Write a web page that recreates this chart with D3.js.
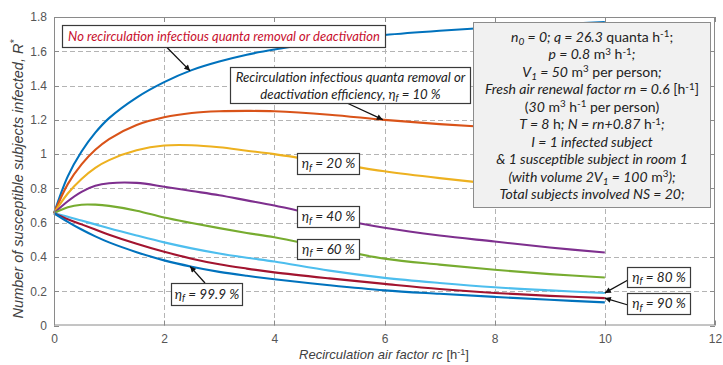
<!DOCTYPE html>
<html>
<head>
<meta charset="utf-8">
<script src="https://cdn.jsdelivr.net/npm/d3@7/dist/d3.min.js"></script>
<style>
  html, body { margin: 0; padding: 0; background: #fff; }
  svg { display: block; }
</style>
</head>
<body>
<svg id="chart" width="723" height="365"></svg>
<script>
// Recirculation air factor rc [h^-1]
const rc = [0, 0.25, 0.5, 0.75, 1, 1.5, 2, 2.5, 3, 3.5, 4, 5, 6, 7, 8, 9, 10];

// R* for each filter efficiency eta_f
const noRemoval = [0.655, 0.87, 1.015, 1.125, 1.21, 1.33, 1.42, 1.49, 1.54, 1.58, 1.61, 1.66, 1.695, 1.72, 1.74, 1.755, 1.77];
const eta10  = [0.655, 0.825, 0.94, 1.025, 1.088, 1.17, 1.215, 1.24, 1.25, 1.252, 1.25, 1.23, 1.20, 1.175, 1.155, 1.135, 1.115];
const eta20  = [0.655, 0.77, 0.855, 0.92, 0.965, 1.022, 1.05, 1.052, 1.04, 1.02, 1.00, 0.95, 0.90, 0.86, 0.825, 0.795, 0.77];
const eta40  = [0.655, 0.725, 0.78, 0.815, 0.83, 0.832, 0.81, 0.785, 0.76, 0.73, 0.70, 0.63, 0.57, 0.525, 0.49, 0.455, 0.426];
const eta60  = [0.655, 0.69, 0.705, 0.705, 0.698, 0.67, 0.63, 0.598, 0.568, 0.54, 0.515, 0.45, 0.39, 0.355, 0.325, 0.30, 0.28];
const eta80  = [0.655, 0.635, 0.612, 0.59, 0.567, 0.525, 0.485, 0.45, 0.42, 0.395, 0.373, 0.32, 0.278, 0.248, 0.223, 0.205, 0.19];
const eta90  = [0.655, 0.62, 0.59, 0.56, 0.53, 0.477, 0.43, 0.39, 0.357, 0.332, 0.31, 0.275, 0.243, 0.213, 0.19, 0.173, 0.16];
const eta999 = [0.655, 0.605, 0.56, 0.52, 0.485, 0.428, 0.38, 0.343, 0.313, 0.29, 0.27, 0.235, 0.205, 0.185, 0.167, 0.15, 0.135];

const seriesList = [noRemoval, eta10, eta20, eta40, eta60, eta80, eta90, eta999];
const seriesColors = ["#0072BD", "#D95319", "#EDB120", "#7E2F8E", "#77AC30", "#4DBEEE", "#A2142F", "#0072BD"];

const xTicks = [0, 2, 4, 6, 8, 10, 12];
const yTicks = [0, 0.2, 0.4, 0.6, 0.8, 1, 1.2, 1.4, 1.6, 1.8];

// Parameter panel, one entry per line: [text, style]; style = i|n + optional b (sub) / p (sup)
const infoLines = [
  [["n", "i"], ["0", "ib"], [" = 0; q = 26.3", "i"], [" quanta h", "n"], ["-1", "np"], [";", "n"]],
  [["p = 0.8", "i"], [" m", "n"], ["3", "np"], [" h", "n"], ["-1", "np"], [";", "i"]],
  [["V", "i"], ["1", "ib"], [" = 50", "i"], [" m", "n"], ["3", "np"], [" per person", "n"], [";", "i"]],
  [["Fresh air renewal factor rn = 0.6", "i"], [" [h", "n"], ["-1", "np"], ["]", "n"]],
  [["(", "n"], ["30", "i"], [" m", "n"], ["3", "np"], [" h", "n"], ["-1", "np"], [" per person)", "n"]],
  [["T = 8", "i"], [" h", "n"], ["; N = rn+0.87", "i"], [" h", "n"], ["-1", "np"], [";", "i"]],
  [["I = 1 infected subject", "i"]],
  [["& 1 susceptible subject in room 1", "i"]],
  [["(with volume 2V", "i"], ["1", "ib"], [" = 100", "i"], [" m", "n"], ["3", "np"], [");", "i"]],
  [["Total subjects involved NS = 20;", "i"]]
];

const svg = d3.select("#chart");
const plot = { left: 54, right: 715, top: 17, bottom: 325.5 };

const x = d3.scaleLinear().domain([0, 12]).range([plot.left, plot.right]);
const y = d3.scaleLinear().domain([0, 1.8]).range([plot.bottom, plot.top]);

const annFont = "Lato, 'Open Sans', sans-serif";
const axFont = "'Liberation Sans', Arial, sans-serif";

// arrowhead marker
svg.append("defs").append("marker")
  .attr("id", "arrow").attr("viewBox", "0 0 10 10")
  .attr("refX", 10).attr("refY", 5)
  .attr("markerWidth", 7).attr("markerHeight", 6)
  .attr("markerUnits", "userSpaceOnUse")
  .attr("orient", "auto")
  .append("path").attr("d", "M0,0 L10,5 L0,10 z").attr("fill", "#111");

// grid
const grid = svg.append("g").attr("stroke", "#b4b4b4").attr("stroke-width", 1)
  .attr("stroke-dasharray", "5,3").attr("fill", "none");
xTicks.slice(1, -1).forEach(t => grid.append("line")
  .attr("x1", Math.round(x(t)) + 0.5).attr("x2", Math.round(x(t)) + 0.5)
  .attr("y1", plot.top).attr("y2", plot.bottom));
yTicks.slice(1, -1).forEach(t => grid.append("line")
  .attr("y1", Math.round(y(t)) + 0.5).attr("y2", Math.round(y(t)) + 0.5)
  .attr("x1", plot.left).attr("x2", plot.right));

// curves
const line = d3.line().x((d, i) => x(rc[i])).y(d => y(d)).curve(d3.curveCatmullRom.alpha(0.5));
svg.append("g").selectAll("path").data(seriesList).join("path")
  .attr("d", d => line(d))
  .attr("fill", "none")
  .attr("stroke", (d, i) => seriesColors[i])
  .attr("stroke-width", 2.1)
  .attr("stroke-linejoin", "round");

// value on a series at a given rc (for arrow tips)
function at(series, xv) {
  const i = Math.min(d3.bisectRight(rc, xv) - 1, rc.length - 1);
  const j = Math.min(i + 1, rc.length - 1);
  const t = j === i ? 0 : (xv - rc[i]) / (rc[j] - rc[i]);
  return [x(xv), y(series[i] + t * (series[j] - series[i]))];
}

// rich text with italic / sub / sup runs
function richText(textSel, segs, size) {
  let shift = 0;
  segs.forEach(([t, code]) => {
    const ts = textSel.append("tspan").text(t);
    ts.attr("font-style", code[0] === "i" ? "italic" : "normal");
    let target = 0, fsz = size;
    if (code[1] === "p") { target = -size * 0.32; fsz = size * 0.7; }
    if (code[1] === "b") { target = size * 0.22; fsz = size * 0.72; }
    ts.attr("font-size", fsz);
    if (target !== shift) { ts.attr("dy", target - shift); shift = target; }
  });
}

function centeredLine(g, cx, baseY, segs, size, color) {
  const t = g.append("text")
    .attr("x", cx).attr("y", baseY)
    .attr("text-anchor", "middle")
    .attr("font-family", annFont)
    .attr("font-size", size)
    .attr("fill", color);
  richText(t, segs, size);
  return t;
}

// arrows
const arrows = svg.append("g").attr("stroke", "#111").attr("stroke-width", 1.3);
function arrow(from, to) {
  arrows.append("line").attr("x1", from[0]).attr("y1", from[1])
    .attr("x2", to[0]).attr("y2", to[1]).attr("marker-end", "url(#arrow)");
}
arrow([167, 47.5], at(noRemoval, 2.47));
arrow([348, 103.5], at(eta10, 5.97));
arrow([205, 283], at(eta999, 2.47));
arrow([628, 280], at(eta80, 10));
arrow([628, 305], at(eta90, 10));

// annotation boxes: [x, y, w, h, first baseline offset, line step, font size]
const ann = svg.append("g");
function box(r, lines, color) {
  ann.append("rect").attr("x", r[0] + 0.5).attr("y", r[1] + 0.5)
    .attr("width", r[2]).attr("height", r[3])
    .attr("fill", "#fff").attr("stroke", "#3a3a3a").attr("stroke-width", 1.2);
  lines.forEach((segs, k) => {
    centeredLine(ann, r[0] + r[2] / 2 + 0.5, r[1] + r[4] + k * r[5], segs, r[6], color);
  });
}
const eta = p => [["\u03b7", "i"], ["f", "ib"], [` = ${p} %`, "i"]];
box([62, 25, 323, 22, 15.8, 0, 13.0], [[["No recirculation infectious quanta removal or deactivation", "i"]]], "#c8102e");
box([230, 67, 240, 36, 15, 16.5, 13.2], [
  [["Recirculation infectious quanta removal or", "i"]],
  [["deactivation efficiency, ", "i"], ["\u03b7", "i"], ["f", "ib"], [" = 10 %", "i"]]
], "#222");
box([297, 153, 62, 21, 15, 0, 13.5], [eta(20)], "#222");
box([297, 206, 62, 21, 15, 0, 13.5], [eta(40)], "#222");
box([297, 239, 62, 20, 14.5, 0, 13.5], [eta(60)], "#222");
box([171, 283, 71, 22, 15.5, 0, 13.5], [eta(99.9)], "#222");
box([627, 267, 63, 20, 14.5, 0, 13.5], [eta(80)], "#222");
box([627, 293, 63, 21, 15, 0, 13.5], [eta(90)], "#222");

// parameter panel
const info = svg.append("g");
info.append("rect").attr("x", 473.5).attr("y", 22.5).attr("width", 237).attr("height", 185)
  .attr("fill", "#f1f1f1").attr("stroke", "#8c8c8c").attr("stroke-width", 1);
infoLines.forEach((segs, k) => {
  centeredLine(info, 592, 41.5 + k * 17.5, segs, 14, "#222");
});

// frame with inward ticks
const frame = svg.append("g").attr("stroke", "#8a8a8a").attr("stroke-width", 1).attr("fill", "none");
frame.append("rect").attr("x", plot.left + 0.5).attr("y", plot.top + 0.5)
  .attr("width", plot.right - plot.left - 1).attr("height", plot.bottom - plot.top - 1);
xTicks.forEach(t => {
  const px = Math.round(x(t)) + 0.5;
  frame.append("line").attr("x1", px).attr("x2", px).attr("y1", plot.bottom).attr("y2", plot.bottom - 5);
  frame.append("line").attr("x1", px).attr("x2", px).attr("y1", plot.top).attr("y2", plot.top + 5);
});
yTicks.forEach(t => {
  const py = Math.round(y(t)) + 0.5;
  frame.append("line").attr("y1", py).attr("y2", py).attr("x1", plot.left).attr("x2", plot.left + 5);
  frame.append("line").attr("y1", py).attr("y2", py).attr("x1", plot.right).attr("x2", plot.right - 5);
});

// tick labels via d3 axes
const xAxis = svg.append("g").attr("transform", `translate(0,${plot.bottom})`)
  .call(d3.axisBottom(x).tickValues(xTicks).tickSize(0).tickPadding(9).tickFormat(d3.format("d")));
const yAxis = svg.append("g").attr("transform", `translate(${plot.left},0)`)
  .call(d3.axisLeft(y).tickValues(yTicks).tickSize(0).tickPadding(7).tickFormat(d => String(+d.toFixed(1))));
[xAxis, yAxis].forEach(a => {
  a.select(".domain").remove();
  a.selectAll("text").attr("font-family", axFont).attr("font-size", 12).attr("fill", "#555");
});

// axis titles
const xt = svg.append("text").attr("x", 384).attr("y", 359).attr("text-anchor", "middle")
  .attr("font-family", axFont).attr("font-size", 13).attr("fill", "#404040");
richText(xt, [["Recirculation air factor rc", "i"], [" [h", "n"], ["-1", "np"], ["]", "n"]], 13);

const yt = svg.append("text").attr("transform", `translate(23,179) rotate(-90)`)
  .attr("text-anchor", "middle").attr("font-family", axFont).attr("font-size", 14.5).attr("fill", "#404040");
richText(yt, [["Number of susceptible subjects infected, R", "i"], ["*", "ip"]], 14.5);
</script>
</body>
</html>
